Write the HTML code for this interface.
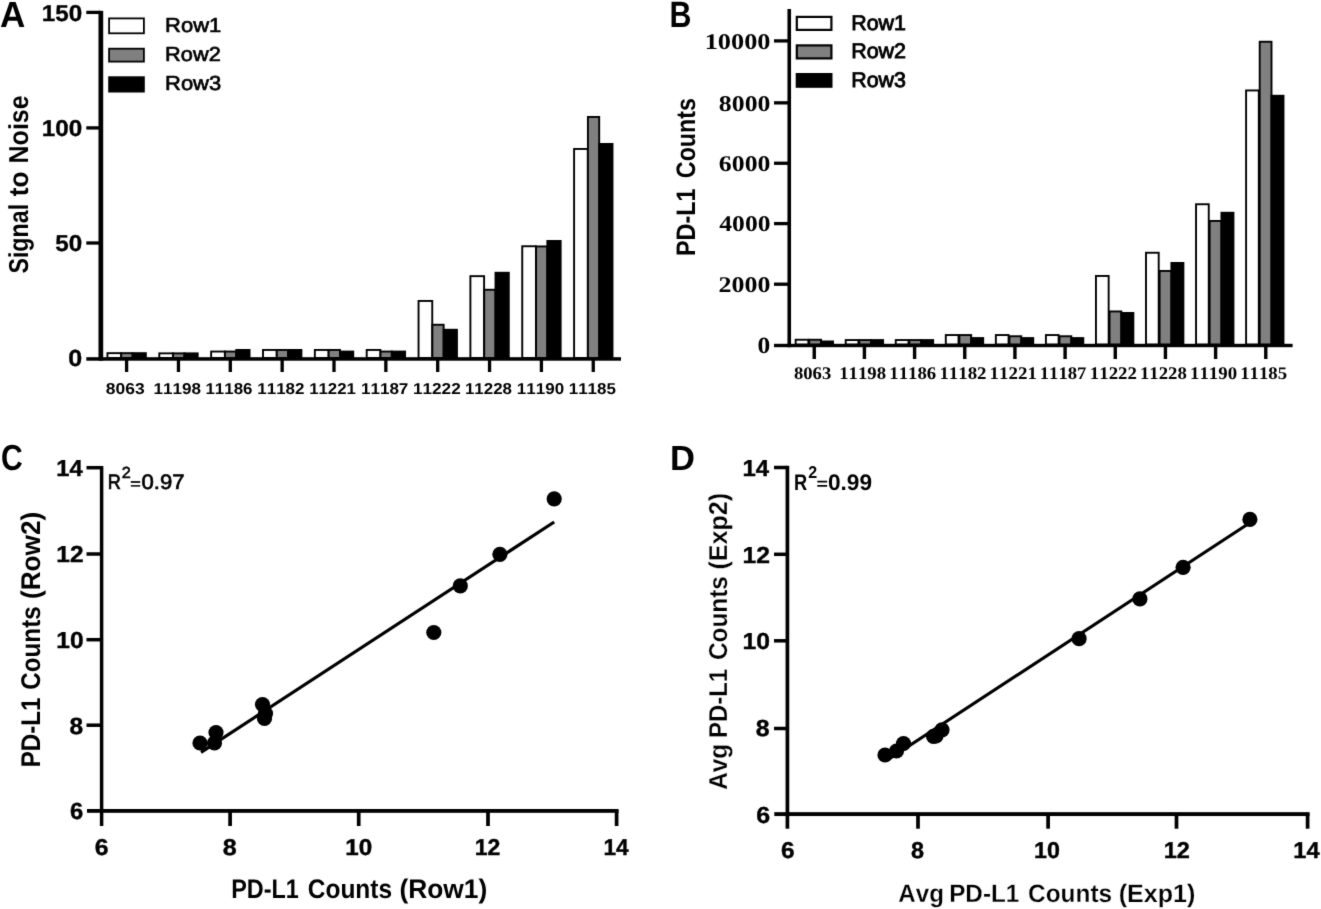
<!DOCTYPE html>
<html><head><meta charset="utf-8"><title>Figure</title>
<style>
html,body{margin:0;padding:0;background:#fff;}
body{width:1321px;height:909px;overflow:hidden;font-family:"Liberation Sans",sans-serif;}
svg{display:block;}
svg text.sf{font-family:"Liberation Serif",serif !important;}
svg text{font-family:"Liberation Sans",sans-serif;text-rendering:geometricPrecision;font-kerning:none;font-variant-ligatures:none;}
</style></head><body>
<svg width="1321" height="909" viewBox="0 0 1321 909">
<defs><filter id="soft" x="0" y="0" width="1321" height="909" filterUnits="userSpaceOnUse" color-interpolation-filters="sRGB">
<feColorMatrix type="saturate" values="0"/>
<feConvolveMatrix order="3" kernelMatrix="0.011 0.084 0.011 0.084 0.62 0.084 0.011 0.084 0.011" edgeMode="duplicate" preserveAlpha="true"/>
</filter></defs>
<g filter="url(#soft)">
<rect x="0" y="0" width="1321" height="909" fill="#fff"/>
<rect x="107.45" y="353.15" width="13.7" height="4.9" fill="#fff" stroke="#000" stroke-width="1.9"/>
<rect x="121.25" y="353.15" width="11.3" height="4.9" fill="#808080" stroke="#000" stroke-width="1.9"/>
<rect x="131.6" y="352.2" width="15.2" height="6.8" fill="#000"/>
<rect x="159.3" y="353.35" width="13.7" height="4.7" fill="#fff" stroke="#000" stroke-width="1.9"/>
<rect x="173.1" y="353.35" width="11.3" height="4.7" fill="#808080" stroke="#000" stroke-width="1.9"/>
<rect x="183.45" y="352.4" width="15.2" height="6.6" fill="#000"/>
<rect x="211.15" y="351.55" width="13.7" height="6.5" fill="#fff" stroke="#000" stroke-width="1.9"/>
<rect x="224.95" y="351.55" width="11.3" height="6.5" fill="#808080" stroke="#000" stroke-width="1.9"/>
<rect x="235.3" y="349" width="15.2" height="10" fill="#000"/>
<rect x="263" y="349.95" width="13.7" height="8.1" fill="#fff" stroke="#000" stroke-width="1.9"/>
<rect x="276.8" y="349.95" width="11.3" height="8.1" fill="#808080" stroke="#000" stroke-width="1.9"/>
<rect x="287.15" y="349" width="15.2" height="10" fill="#000"/>
<rect x="314.85" y="349.95" width="13.7" height="8.1" fill="#fff" stroke="#000" stroke-width="1.9"/>
<rect x="328.65" y="349.95" width="11.3" height="8.1" fill="#808080" stroke="#000" stroke-width="1.9"/>
<rect x="339" y="350.6" width="15.2" height="8.4" fill="#000"/>
<rect x="366.7" y="349.95" width="13.7" height="8.1" fill="#fff" stroke="#000" stroke-width="1.9"/>
<rect x="380.5" y="351.55" width="11.3" height="6.5" fill="#808080" stroke="#000" stroke-width="1.9"/>
<rect x="390.85" y="350.6" width="15.2" height="8.4" fill="#000"/>
<rect x="418.55" y="300.95" width="13.7" height="57.1" fill="#fff" stroke="#000" stroke-width="1.9"/>
<rect x="432.35" y="324.75" width="11.3" height="33.3" fill="#808080" stroke="#000" stroke-width="1.9"/>
<rect x="442.7" y="328.8" width="15.2" height="30.2" fill="#000"/>
<rect x="470.4" y="276.15" width="13.7" height="81.9" fill="#fff" stroke="#000" stroke-width="1.9"/>
<rect x="484.2" y="289.75" width="11.3" height="68.3" fill="#808080" stroke="#000" stroke-width="1.9"/>
<rect x="494.55" y="271.8" width="15.2" height="87.2" fill="#000"/>
<rect x="522.25" y="246.25" width="13.7" height="111.8" fill="#fff" stroke="#000" stroke-width="1.9"/>
<rect x="536.05" y="246.45" width="11.3" height="111.6" fill="#808080" stroke="#000" stroke-width="1.9"/>
<rect x="546.4" y="240" width="15.2" height="119" fill="#000"/>
<rect x="574.1" y="148.95" width="13.7" height="209.1" fill="#fff" stroke="#000" stroke-width="1.9"/>
<rect x="587.9" y="116.95" width="11.3" height="241.1" fill="#808080" stroke="#000" stroke-width="1.9"/>
<rect x="598.25" y="143" width="15.2" height="216" fill="#000"/>
<rect x="98.5" y="10.8" width="4.7" height="349.9" fill="#000"/>
<rect x="86.3" y="357.2" width="534.7" height="3.5" fill="#000"/>
<rect x="86.3" y="10.75" width="13.7" height="3.3" fill="#000"/>
<rect x="86.3" y="126.25" width="13.7" height="3.3" fill="#000"/>
<rect x="86.3" y="241.35" width="13.7" height="3.3" fill="#000"/>
<rect x="124.95" y="360" width="3.3" height="12" fill="#000"/>
<rect x="176.8" y="360" width="3.3" height="12" fill="#000"/>
<rect x="228.65" y="360" width="3.3" height="12" fill="#000"/>
<rect x="280.5" y="360" width="3.3" height="12" fill="#000"/>
<rect x="332.35" y="360" width="3.3" height="12" fill="#000"/>
<rect x="384.2" y="360" width="3.3" height="12" fill="#000"/>
<rect x="436.05" y="360" width="3.3" height="12" fill="#000"/>
<rect x="487.9" y="360" width="3.3" height="12" fill="#000"/>
<rect x="539.75" y="360" width="3.3" height="12" fill="#000"/>
<rect x="591.6" y="360" width="3.3" height="12" fill="#000"/>
<text transform="translate(41.77 21) scale(0.2423 0.2309)" font-size="100" font-weight="bold" fill="#000" stroke="#000" stroke-width="1.48">150</text>
<text transform="translate(41.77 136) scale(0.2423 0.2295)" font-size="100" font-weight="bold" fill="#000" stroke="#000" stroke-width="1.48">100</text>
<text transform="translate(55.3 251) scale(0.2418 0.2295)" font-size="100" font-weight="bold" fill="#000" stroke="#000" stroke-width="1.49">50</text>
<text transform="translate(68.27 366) scale(0.2511 0.2323)" font-size="100" font-weight="bold" fill="#000" stroke="#000" stroke-width="1.45">0</text>
<text transform="translate(105.84 394) scale(0.1744 0.1568)" font-size="100" font-weight="bold" fill="#000">8063</text>
<text transform="translate(153.54 394) scale(0.1708 0.1568)" font-size="100" font-weight="bold" fill="#000">11198</text>
<text transform="translate(205.45 394) scale(0.1693 0.1568)" font-size="100" font-weight="bold" fill="#000">11186</text>
<text transform="translate(257.25 394) scale(0.1699 0.1568)" font-size="100" font-weight="bold" fill="#000">11182</text>
<text transform="translate(309.16 394) scale(0.1680 0.1568)" font-size="100" font-weight="bold" fill="#000">11221</text>
<text transform="translate(360.94 394) scale(0.1705 0.1568)" font-size="100" font-weight="bold" fill="#000">11187</text>
<text transform="translate(412.94 394) scale(0.1718 0.1568)" font-size="100" font-weight="bold" fill="#000">11222</text>
<text transform="translate(464.95 394) scale(0.1693 0.1568)" font-size="100" font-weight="bold" fill="#000">11228</text>
<text transform="translate(516.85 394) scale(0.1699 0.1568)" font-size="100" font-weight="bold" fill="#000">11190</text>
<text transform="translate(568.75 394) scale(0.1695 0.1568)" font-size="100" font-weight="bold" fill="#000">11185</text>
<rect x="109.1" y="18.4" width="34.8" height="14.9" fill="#fff" stroke="#000" stroke-width="1.8"/>
<rect x="109.1" y="48.7" width="34.8" height="12.9" fill="#808080" stroke="#000" stroke-width="1.8"/>
<rect x="108.2" y="76.3" width="36.6" height="16.2" fill="#000"/>
<text transform="translate(165.05 32) scale(0.2197 0.2020)" font-size="100" font-weight="normal" fill="#000" stroke="#000" stroke-width="3.32">Row1</text>
<text transform="translate(165.06 61) scale(0.2178 0.2020)" font-size="100" font-weight="normal" fill="#000" stroke="#000" stroke-width="3.33">Row2</text>
<text transform="translate(165.05 90) scale(0.2193 0.2020)" font-size="100" font-weight="normal" fill="#000" stroke="#000" stroke-width="3.32">Row3</text>
<text transform="translate(0.09 27) scale(0.3507 0.3619)" font-size="100" font-weight="bold" fill="#000">A</text>
<text transform="translate(28 273.6) rotate(-90) scale(0.2324 0.2733)" font-size="100" font-weight="bold" fill="#000">Signal</text>
<text transform="translate(28 196.21) rotate(-90) scale(0.2617 0.2733)" font-size="100" font-weight="bold" fill="#000">to</text>
<text transform="translate(28 163.45) rotate(-90) scale(0.2500 0.2733)" font-size="100" font-weight="bold" fill="#000">Noise</text>
<rect x="795.65" y="339.75" width="12.7" height="4.8" fill="#fff" stroke="#000" stroke-width="1.9"/>
<rect x="809.25" y="339.75" width="11.8" height="4.8" fill="#808080" stroke="#000" stroke-width="1.9"/>
<rect x="820.1" y="340.5" width="13.9" height="5" fill="#000"/>
<rect x="845.7" y="340.05" width="12.7" height="4.5" fill="#fff" stroke="#000" stroke-width="1.9"/>
<rect x="859.3" y="340.05" width="11.8" height="4.5" fill="#808080" stroke="#000" stroke-width="1.9"/>
<rect x="870.15" y="339.1" width="13.9" height="6.4" fill="#000"/>
<rect x="895.75" y="340.05" width="12.7" height="4.5" fill="#fff" stroke="#000" stroke-width="1.9"/>
<rect x="909.35" y="340.05" width="11.8" height="4.5" fill="#808080" stroke="#000" stroke-width="1.9"/>
<rect x="920.2" y="339.1" width="13.9" height="6.4" fill="#000"/>
<rect x="945.8" y="335.05" width="12.7" height="9.5" fill="#fff" stroke="#000" stroke-width="1.9"/>
<rect x="959.4" y="335.05" width="11.8" height="9.5" fill="#808080" stroke="#000" stroke-width="1.9"/>
<rect x="970.25" y="337.1" width="13.9" height="8.4" fill="#000"/>
<rect x="995.85" y="335.05" width="12.7" height="9.5" fill="#fff" stroke="#000" stroke-width="1.9"/>
<rect x="1009.45" y="336.25" width="11.8" height="8.3" fill="#808080" stroke="#000" stroke-width="1.9"/>
<rect x="1020.3" y="337.1" width="13.9" height="8.4" fill="#000"/>
<rect x="1045.9" y="335.05" width="12.7" height="9.5" fill="#fff" stroke="#000" stroke-width="1.9"/>
<rect x="1059.5" y="336.25" width="11.8" height="8.3" fill="#808080" stroke="#000" stroke-width="1.9"/>
<rect x="1070.35" y="337.1" width="13.9" height="8.4" fill="#000"/>
<rect x="1095.95" y="275.95" width="12.7" height="68.6" fill="#fff" stroke="#000" stroke-width="1.9"/>
<rect x="1109.55" y="311.45" width="11.8" height="33.1" fill="#808080" stroke="#000" stroke-width="1.9"/>
<rect x="1120.4" y="312" width="13.9" height="33.5" fill="#000"/>
<rect x="1146" y="252.75" width="12.7" height="91.8" fill="#fff" stroke="#000" stroke-width="1.9"/>
<rect x="1159.6" y="270.95" width="11.8" height="73.6" fill="#808080" stroke="#000" stroke-width="1.9"/>
<rect x="1170.45" y="262" width="13.9" height="83.5" fill="#000"/>
<rect x="1196.05" y="204.25" width="12.7" height="140.3" fill="#fff" stroke="#000" stroke-width="1.9"/>
<rect x="1209.65" y="220.95" width="11.8" height="123.6" fill="#808080" stroke="#000" stroke-width="1.9"/>
<rect x="1220.5" y="211.8" width="13.9" height="133.7" fill="#000"/>
<rect x="1246.1" y="90.45" width="12.7" height="254.1" fill="#fff" stroke="#000" stroke-width="1.9"/>
<rect x="1259.7" y="41.75" width="11.8" height="302.8" fill="#808080" stroke="#000" stroke-width="1.9"/>
<rect x="1270.55" y="94.8" width="13.9" height="250.7" fill="#000"/>
<rect x="787.45" y="9" width="3.6" height="338.2" fill="#000"/>
<rect x="774" y="343.8" width="518.6" height="3.4" fill="#000"/>
<rect x="774" y="39.25" width="14" height="3.3" fill="#000"/>
<rect x="774" y="101.2" width="14" height="3.3" fill="#000"/>
<rect x="774" y="161.6" width="14" height="3.3" fill="#000"/>
<rect x="774" y="221.95" width="14" height="3.3" fill="#000"/>
<rect x="774" y="282.55" width="14" height="3.3" fill="#000"/>
<rect x="812.55" y="346.5" width="3.4" height="12.5" fill="#000"/>
<rect x="862.72" y="346.5" width="3.4" height="12.5" fill="#000"/>
<rect x="912.89" y="346.5" width="3.4" height="12.5" fill="#000"/>
<rect x="963.06" y="346.5" width="3.4" height="12.5" fill="#000"/>
<rect x="1013.23" y="346.5" width="3.4" height="12.5" fill="#000"/>
<rect x="1063.4" y="346.5" width="3.4" height="12.5" fill="#000"/>
<rect x="1113.57" y="346.5" width="3.4" height="12.5" fill="#000"/>
<rect x="1163.74" y="346.5" width="3.4" height="12.5" fill="#000"/>
<rect x="1213.91" y="346.5" width="3.4" height="12.5" fill="#000"/>
<rect x="1264.08" y="346.5" width="3.4" height="12.5" fill="#000"/>
<text class="sf" transform="translate(704.69 49) scale(0.2632 0.2249)" font-size="100" font-weight="bold" fill="#000">10000</text>
<text class="sf" transform="translate(718.82 111) scale(0.2583 0.2249)" font-size="100" font-weight="bold" fill="#000">8000</text>
<text class="sf" transform="translate(718.82 171) scale(0.2583 0.2249)" font-size="100" font-weight="bold" fill="#000">6000</text>
<text class="sf" transform="translate(719.34 231) scale(0.2556 0.2249)" font-size="100" font-weight="bold" fill="#000">4000</text>
<text class="sf" transform="translate(718.61 292) scale(0.2594 0.2249)" font-size="100" font-weight="bold" fill="#000">2000</text>
<text class="sf" transform="translate(757.43 353) scale(0.2547 0.2337)" font-size="100" font-weight="bold" fill="#000">0</text>
<text class="sf" transform="translate(793.97 379) scale(0.1863 0.1775)" font-size="100" font-weight="bold" fill="#000">8063</text>
<text class="sf" transform="translate(839.2 379) scale(0.1878 0.1775)" font-size="100" font-weight="bold" fill="#000">11198</text>
<text class="sf" transform="translate(889.32 379) scale(0.1874 0.1775)" font-size="100" font-weight="bold" fill="#000">11186</text>
<text class="sf" transform="translate(939.43 379) scale(0.1884 0.1775)" font-size="100" font-weight="bold" fill="#000">11182</text>
<text class="sf" transform="translate(989.55 379) scale(0.1892 0.1775)" font-size="100" font-weight="bold" fill="#000">11221</text>
<text class="sf" transform="translate(1039.68 379) scale(0.1870 0.1775)" font-size="100" font-weight="bold" fill="#000">11187</text>
<text class="sf" transform="translate(1089.79 379) scale(0.1884 0.1775)" font-size="100" font-weight="bold" fill="#000">11222</text>
<text class="sf" transform="translate(1139.92 379) scale(0.1878 0.1775)" font-size="100" font-weight="bold" fill="#000">11228</text>
<text class="sf" transform="translate(1190.04 379) scale(0.1881 0.1775)" font-size="100" font-weight="bold" fill="#000">11190</text>
<text class="sf" transform="translate(1240.16 379) scale(0.1879 0.1775)" font-size="100" font-weight="bold" fill="#000">11185</text>
<rect x="796.8" y="16.9" width="34.6" height="13" fill="#fff" stroke="#000" stroke-width="2.2"/>
<rect x="796.8" y="45.4" width="34.6" height="13" fill="#808080" stroke="#000" stroke-width="2.2"/>
<rect x="795.7" y="73" width="36.8" height="14.8" fill="#000"/>
<text transform="translate(851.19 30) scale(0.2143 0.2122)" font-size="100" font-weight="normal" fill="#000" stroke="#000" stroke-width="4.22">Row1</text>
<text transform="translate(851.19 58) scale(0.2145 0.2120)" font-size="100" font-weight="normal" fill="#000" stroke="#000" stroke-width="4.22">Row2</text>
<text transform="translate(851.2 87) scale(0.2140 0.2120)" font-size="100" font-weight="normal" fill="#000" stroke="#000" stroke-width="4.23">Row3</text>
<text transform="translate(669.5 27) scale(0.3033 0.3663)" font-size="100" font-weight="bold" fill="#000">B</text>
<text transform="translate(695 256.04) rotate(-90) scale(0.2339 0.2674)" font-size="100" font-weight="bold" fill="#000">PD-L1</text>
<text transform="translate(695 178.18) rotate(-90) scale(0.2329 0.2674)" font-size="100" font-weight="bold" fill="#000">Counts</text>
<rect x="99.85" y="466" width="3.5" height="360" fill="#000"/>
<rect x="87" y="809" width="531.5" height="3.8" fill="#000"/>
<rect x="86.5" y="465.95" width="14.5" height="3.5" fill="#000"/>
<rect x="86.5" y="552.25" width="14.5" height="3.5" fill="#000"/>
<rect x="86.5" y="637.95" width="14.5" height="3.5" fill="#000"/>
<rect x="86.5" y="723.45" width="14.5" height="3.5" fill="#000"/>
<rect x="228.25" y="810" width="3.7" height="16" fill="#000"/>
<rect x="356.85" y="810" width="3.7" height="16" fill="#000"/>
<rect x="486.15" y="810" width="3.7" height="16" fill="#000"/>
<rect x="614.75" y="810" width="3.7" height="16" fill="#000"/>
<text transform="translate(56.33 476) scale(0.2375 0.2316)" font-size="100" font-weight="bold" fill="#000" stroke="#000" stroke-width="1.71">14</text>
<text transform="translate(56.28 562) scale(0.2455 0.2316)" font-size="100" font-weight="bold" fill="#000" stroke="#000" stroke-width="1.68">12</text>
<text transform="translate(56.28 648) scale(0.2455 0.2316)" font-size="100" font-weight="bold" fill="#000" stroke="#000" stroke-width="1.68">10</text>
<text transform="translate(69.62 734) scale(0.2449 0.2345)" font-size="100" font-weight="bold" fill="#000" stroke="#000" stroke-width="1.67">8</text>
<text transform="translate(69.94 819) scale(0.2376 0.2345)" font-size="100" font-weight="bold" fill="#000" stroke="#000" stroke-width="1.69">6</text>
<text transform="translate(94.71 855) scale(0.2479 0.2288)" font-size="100" font-weight="bold" fill="#000" stroke="#000" stroke-width="1.68">6</text>
<text transform="translate(222.7 855) scale(0.2510 0.2288)" font-size="100" font-weight="bold" fill="#000" stroke="#000" stroke-width="1.67">8</text>
<text transform="translate(345.2 855) scale(0.2426 0.2288)" font-size="100" font-weight="bold" fill="#000" stroke="#000" stroke-width="1.7">10</text>
<text transform="translate(474.67 855) scale(0.2307 0.2288)" font-size="100" font-weight="bold" fill="#000" stroke="#000" stroke-width="1.74">12</text>
<text transform="translate(603.39 855) scale(0.2270 0.2288)" font-size="100" font-weight="bold" fill="#000" stroke="#000" stroke-width="1.76">14</text>
<text transform="translate(231.26 898) scale(0.2339 0.2674)" font-size="100" font-weight="bold" fill="#000">PD-L1</text>
<text transform="translate(307.77 898) scale(0.2448 0.2674)" font-size="100" font-weight="bold" fill="#000">Counts</text>
<text transform="translate(399.38 898) scale(0.2638 0.2674)" font-size="100" font-weight="bold" fill="#000">(Row1)</text>
<text transform="translate(40 767.29) rotate(-90) scale(0.2411 0.2703)" font-size="100" font-weight="bold" fill="#000">PD-L1</text>
<text transform="translate(40 689.72) rotate(-90) scale(0.2421 0.2703)" font-size="100" font-weight="bold" fill="#000">Counts</text>
<text transform="translate(40 599.01) rotate(-90) scale(0.2616 0.2703)" font-size="100" font-weight="bold" fill="#000">(Row2)</text>
<text transform="translate(0.94 470) scale(0.3006 0.3630)" font-size="100" font-weight="bold" fill="#000">C</text>
<text transform="translate(107.86 489) scale(0.1818 0.2078)" font-size="100" font-weight="normal" fill="#000" stroke="#000" stroke-width="3.59">R</text>
<text transform="translate(121.69 478) scale(0.1623 0.1605)" font-size="100" font-weight="normal" fill="#000" stroke="#000" stroke-width="3.72">2</text>
<text transform="translate(130.23 489) scale(0.1811 0.1584)" font-size="100" font-weight="normal" fill="#000" stroke="#000" stroke-width="3.54">=</text>
<text transform="translate(141.46 489) scale(0.2214 0.2090)" font-size="100" font-weight="normal" fill="#000" stroke="#000" stroke-width="3.25">0.97</text>
<line x1="201" y1="752.3" x2="554.2" y2="522" stroke="#000" stroke-width="3.2"/>
<circle cx="554.2" cy="498.8" r="7.6" fill="#000"/>
<circle cx="499.9" cy="554.3" r="7.6" fill="#000"/>
<circle cx="460.3" cy="585.9" r="7.6" fill="#000"/>
<circle cx="433.8" cy="632.5" r="7.6" fill="#000"/>
<circle cx="262.5" cy="704.5" r="7.6" fill="#000"/>
<circle cx="265.5" cy="713.5" r="7.6" fill="#000"/>
<circle cx="264.5" cy="718.5" r="7.6" fill="#000"/>
<circle cx="216" cy="732.5" r="7.6" fill="#000"/>
<circle cx="214.5" cy="743" r="7.6" fill="#000"/>
<circle cx="200" cy="743" r="7.6" fill="#000"/>
<rect x="785.55" y="465.8" width="3.7" height="362.9" fill="#000"/>
<rect x="774.3" y="812.15" width="535.2" height="3.9" fill="#000"/>
<rect x="774" y="465.75" width="13" height="3.5" fill="#000"/>
<rect x="774" y="552.55" width="13" height="3.5" fill="#000"/>
<rect x="774" y="639.05" width="13" height="3.5" fill="#000"/>
<rect x="774" y="726.75" width="13" height="3.5" fill="#000"/>
<rect x="916.15" y="813" width="3.7" height="15.7" fill="#000"/>
<rect x="1046.25" y="813" width="3.7" height="15.7" fill="#000"/>
<rect x="1174.65" y="813" width="3.7" height="15.7" fill="#000"/>
<rect x="1305.75" y="813" width="3.7" height="15.7" fill="#000"/>
<text transform="translate(742.52 476) scale(0.2395 0.2316)" font-size="100" font-weight="bold" fill="#000" stroke="#000" stroke-width="1.7">14</text>
<text transform="translate(742.47 563) scale(0.2475 0.2316)" font-size="100" font-weight="bold" fill="#000" stroke="#000" stroke-width="1.67">12</text>
<text transform="translate(742.47 649) scale(0.2475 0.2316)" font-size="100" font-weight="bold" fill="#000" stroke="#000" stroke-width="1.67">10</text>
<text transform="translate(755.8 736) scale(0.2490 0.2316)" font-size="100" font-weight="bold" fill="#000" stroke="#000" stroke-width="1.66">8</text>
<text transform="translate(756.2 823) scale(0.2500 0.2316)" font-size="100" font-weight="bold" fill="#000" stroke="#000" stroke-width="1.66">6</text>
<text transform="translate(781.12 858) scale(0.2438 0.2288)" font-size="100" font-weight="bold" fill="#000" stroke="#000" stroke-width="1.69">6</text>
<text transform="translate(911.05 858) scale(0.2348 0.2288)" font-size="100" font-weight="bold" fill="#000" stroke="#000" stroke-width="1.73">8</text>
<text transform="translate(1034.06 858) scale(0.2327 0.2288)" font-size="100" font-weight="bold" fill="#000" stroke="#000" stroke-width="1.73">10</text>
<text transform="translate(1163.64 858) scale(0.2356 0.2288)" font-size="100" font-weight="bold" fill="#000" stroke="#000" stroke-width="1.72">12</text>
<text transform="translate(1293.33 858) scale(0.2366 0.2288)" font-size="100" font-weight="bold" fill="#000" stroke="#000" stroke-width="1.72">14</text>
<text transform="translate(898.37 902) scale(0.2411 0.2515)" font-size="100" font-weight="bold" fill="#000" stroke="#fff" stroke-width="1.02">Avg</text>
<text transform="translate(949.2 902) scale(0.2425 0.2515)" font-size="100" font-weight="bold" fill="#000" stroke="#fff" stroke-width="1.01">PD-L1</text>
<text transform="translate(1028.08 902) scale(0.2439 0.2515)" font-size="100" font-weight="bold" fill="#000" stroke="#fff" stroke-width="1.01">Counts</text>
<text transform="translate(1118.64 902) scale(0.2512 0.2515)" font-size="100" font-weight="bold" fill="#000" stroke="#fff" stroke-width="0.99">(Exp1)</text>
<text transform="translate(727 789.83) rotate(-90) scale(0.2433 0.2602)" font-size="100" font-weight="bold" fill="#000" stroke="#fff" stroke-width="0.99">Avg</text>
<text transform="translate(727 737.98) rotate(-90) scale(0.2389 0.2602)" font-size="100" font-weight="bold" fill="#000" stroke="#fff" stroke-width="1">PD-L1</text>
<text transform="translate(727 660.12) rotate(-90) scale(0.2439 0.2602)" font-size="100" font-weight="bold" fill="#000" stroke="#fff" stroke-width="0.99">Counts</text>
<text transform="translate(727 569.56) rotate(-90) scale(0.2512 0.2602)" font-size="100" font-weight="bold" fill="#000" stroke="#fff" stroke-width="0.98">(Exp2)</text>
<text transform="translate(670.12 470) scale(0.3453 0.3488)" font-size="100" font-weight="bold" fill="#000">D</text>
<text transform="translate(794 490) scale(0.1824 0.2238)" font-size="100" font-weight="bold" fill="#000">R</text>
<text transform="translate(808.26 478) scale(0.1598 0.1719)" font-size="100" font-weight="bold" fill="#000">2</text>
<text transform="translate(816.38 489) scale(0.1960 0.1587)" font-size="100" font-weight="bold" fill="#000">=</text>
<text transform="translate(827.89 490) scale(0.2267 0.2260)" font-size="100" font-weight="bold" fill="#000">0.99</text>
<line x1="886" y1="761" x2="1248" y2="524" stroke="#000" stroke-width="3.2"/>
<circle cx="1249.9" cy="519.4" r="7.6" fill="#000"/>
<circle cx="1183.1" cy="567.3" r="7.6" fill="#000"/>
<circle cx="1139.9" cy="598.9" r="7.6" fill="#000"/>
<circle cx="1079.1" cy="638.7" r="7.6" fill="#000"/>
<circle cx="942" cy="729.8" r="7.6" fill="#000"/>
<circle cx="933.5" cy="736.3" r="7.6" fill="#000"/>
<circle cx="936" cy="735.8" r="7.6" fill="#000"/>
<circle cx="903.5" cy="743.5" r="7.6" fill="#000"/>
<circle cx="896.5" cy="751" r="7.6" fill="#000"/>
<circle cx="885" cy="755" r="7.6" fill="#000"/>
</g>
</svg>
</body></html>
